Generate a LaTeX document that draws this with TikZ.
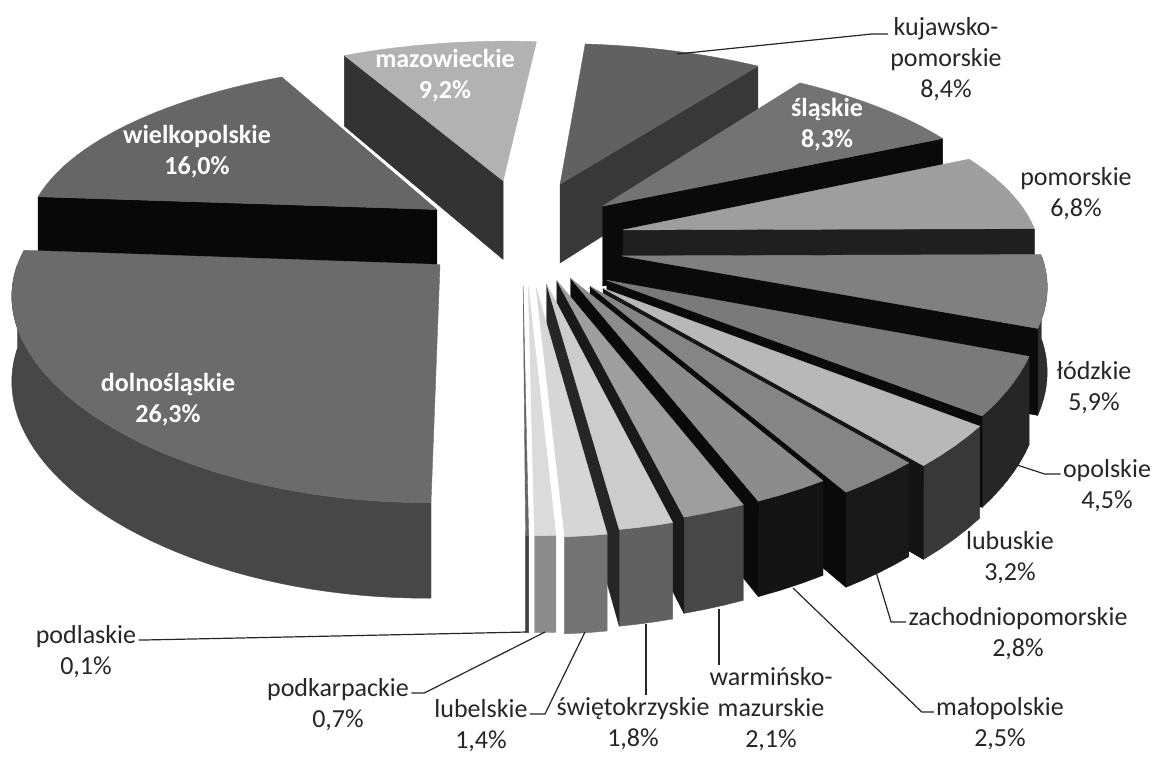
\documentclass[tikz,border=0pt]{standalone}
\usepackage{fontspec}
\setmainfont{Carlito}

% height of the pie and projection of a pie point (depth Y, height Z) to the page
\def\hgt{0.225}
\pgfmathdeclarefunction{pjx}{2}{\pgfmathparse{530+(#1)*(415-58*(#2))}}
\pgfmathdeclarefunction{pjy}{2}{\pgfmathparse{322-2000*(0.48*(#1)+0.877*(#2))/(4.918+0.877*(#1)-0.48*(#2))}}

% radial cut face: angle, offset x, offset y, colour
\newcommand{\cutface}[4]{%
  \fill[fill=#4, draw=#4, line width=0.2pt, line join=round]
    ({pjx(#2,#3)},{pjy(#3,\hgt)})
    -- ({pjx(cos(#1)+(#2),sin(#1)+(#3))},{pjy(sin(#1)+(#3),\hgt)})
    -- ({pjx(cos(#1)+(#2),sin(#1)+(#3))},{pjy(sin(#1)+(#3),0)})
    -- ({pjx(#2,#3)},{pjy(#3,0)}) -- cycle;}

% slice: start angle, end angle, offset x, offset y, top, rim, cut face
\newcommand{\pieslice}[7]{%
  \pgfmathsetmacro\sA{min(#1,0)}%
  \pgfmathsetmacro\sB{max(#2,-180)}%
  \pgfmathtruncatemacro\hasside{\sA>\sB}%
  \pgfmathtruncatemacro\cutA{cos(#1)<-0.1}%
  \pgfmathtruncatemacro\cutB{cos(#2)>0.1}%
  \pgfmathtruncatemacro\ns{max(4,(#1-(#2))/2)}%
  \ifnum\hasside=1
    \pgfmathtruncatemacro\nss{max(4,(\sA-(\sB))/2)}%
    \fill[fill=#6, draw=#6, line width=0.2pt, line join=round]
      plot[domain=\sB:\sA, samples=\nss, variable=\t]
        ({pjx(cos(\t)+(#3),sin(\t)+(#4))},{pjy(sin(\t)+(#4),\hgt)})
      -- plot[domain=\sB:\sA, samples=\nss, variable=\t]
        ({pjx(cos((\sA)+(\sB)-\t)+(#3),sin((\sA)+(\sB)-\t)+(#4))},{pjy(sin((\sA)+(\sB)-\t)+(#4),0)})
      -- cycle;
  \fi
  \ifnum\cutA=1 \cutface{#1}{#3}{#4}{#7}\fi
  \ifnum\cutB=1 \cutface{#2}{#3}{#4}{#7}\fi
  \fill[fill=#5, draw=#5, line width=0.2pt, line join=round]
    ({pjx(#3,#4)},{pjy(#4,\hgt)})
    -- plot[domain=#2:#1, samples=\ns, variable=\t]
      ({pjx(cos(\t)+(#3),sin(\t)+(#4))},{pjy(sin(\t)+(#4),\hgt)})
    -- cycle;}

\begin{document}
\begin{tikzpicture}[
    x=0.5pt, y=-0.5pt,
    lbl/.style={
        align=center,
        inner sep=1pt,
        font=\fontsize{13}{15.5}\selectfont,
        text=black!85
    },
    inlbl/.style={lbl, font=\fontsize{13}{15.5}\selectfont\bfseries, text=white},
    leader/.style={draw=black!85, line width=0.6pt}
  ]
  \fill[white] (0,0) rectangle (1156,756);
  \useasboundingbox (0,0) rectangle (1156,756);

  % slices, back to front
  \pieslice{118.12}{85}{-0.068}{0.34}{black!30}{black!75}{black!80}      % mazowieckie
  \pieslice{85}{54.76}{0.076}{0.32}{black!62}{black!70}{black!78}        % kujawsko-pomorskie
  \pieslice{175.72}{118.12}{-0.23}{0.17}{black!60}{black!80}{black!97}   % wielkopolskie
  \pieslice{54.76}{24.88}{0.18}{0.19}{black!55}{black!80}{black!96}      % slaskie
  \pieslice{24.88}{0.4}{0.226}{0.055}{black!38}{black!80}{black!88}      % pomorskie
  \pieslice{0.4}{-20.84}{0.218}{-0.085}{black!50}{black!82}{black!96}    % lodzkie
  \pieslice{-89.6}{-184.28}{-0.213}{-0.13}{black!58}{black!72}{black!80} % dolnoslaskie
  \pieslice{-20.84}{-37.04}{0.18}{-0.21}{black!52}{black!85}{black!96}   % opolskie
  \pieslice{-37.04}{-48.56}{0.17}{-0.25}{black!28}{black!78}{black!92}   % lubuskie
  \pieslice{-48.56}{-58.64}{0.14}{-0.24}{black!48}{black!90}{black!96}   % zachodniopomorskie
  \pieslice{-58.64}{-67.64}{0.095}{-0.2}{black!45}{black!92}{black!96}   % malopolskie
  \pieslice{-67.64}{-75.2}{0.063}{-0.212}{black!38}{black!72}{black!90}  % warminsko-mazurskie
  \pieslice{-75.2}{-81.68}{0.039}{-0.23}{black!20}{black!62}{black!85}   % swietokrzyskie
  \pieslice{-81.68}{-86.72}{0.014}{-0.245}{black!16}{black!55}{black!80} % lubelskie
  \pieslice{-86.72}{-89.24}{-0.004}{-0.24}{black!14}{black!45}{black!70} % podkarpackie
  \pieslice{-89.24}{-89.6}{-0.016}{-0.24}{black!60}{black!75}{black!75}  % podlaskie

  % labels
  \node[inlbl] (lMaz) at (445,76) {mazowieckie\\9,2\%};
  \node[inlbl] (lWie) at (197,152) {wielkopolskie\\16,0\%};
  \node[inlbl] (lDol) at (168,400) {dolnośląskie\\26,3\%};
  \node[inlbl] (lSla) at (827,125) {śląskie\\8,3\%};
  \node[lbl] (lKuj) at (946,59) {kujawsko-\\pomorskie\\8,4\%};
  \node[lbl] (lPom) at (1076,194) {pomorskie\\6,8\%};
  \node[lbl] (lLod) at (1094,388) {łódzkie\\5,9\%};
  \node[lbl] (lOpo) at (1107,486) {opolskie\\4,5\%};
  \node[lbl] (lLbu) at (1010,558) {lubuskie\\3,2\%};
  \node[lbl] (lZach) at (1018,634) {zachodniopomorskie\\2,8\%};
  \node[lbl] (lMal) at (1000,724) {małopolskie\\2,5\%};
  \node[lbl] (lWar) at (771,709) {warmińsko-\\mazurskie\\2,1\%};
  \node[lbl] (lSwi) at (633,724) {świętokrzyskie\\1,8\%};
  \node[lbl] (lLbl) at (481,726) {lubelskie\\1,4\%};
  \node[lbl] (lPka) at (338,705) {podkarpackie\\0,7\%};
  \node[lbl] (lPla) at (86,652) {podlaskie\\0,1\%};

  % leader ends on the slices
  \coordinate (kujEnd) at (677,54);
  \coordinate (opoEnd) at (1011,463);
  \coordinate (zachEnd) at (876,572);
  \coordinate (malEnd) at (793,588);
  \coordinate (warEnd) at (719,609);
  \coordinate (swiEnd) at (646,624);
  \coordinate (lblEnd) at (585,632);
  \coordinate (pkaEnd) at (545,632);
  \coordinate (plaEnd) at (527,632);

  \draw[leader] ([yshift=12.5pt]lKuj.west) -- ++(-16,0) -- (kujEnd);
  \draw[leader] ([yshift=6pt]lOpo.west) -- ++(-16,0) -- (opoEnd);
  \draw[leader] ([yshift=6pt]lZach.west) -- ++(-15,0) -- (zachEnd);
  \draw[leader] ([yshift=6pt]lMal.west) -- ++(-12,0) -- (malEnd);
  \draw[leader] (lWar.north -| warEnd) -- (warEnd);
  \draw[leader] (lSwi.north -| swiEnd) -- (swiEnd);
  \draw[leader] ([yshift=6pt]lLbl.east) -- ++(15,0) -- (lblEnd);
  \draw[leader] ([yshift=6pt]lPka.east) -- ++(13,0) -- (pkaEnd);
  \draw[leader] ([yshift=6pt]lPla.east) -- ++(5,0) -- (plaEnd);
\end{tikzpicture}
\end{document}
